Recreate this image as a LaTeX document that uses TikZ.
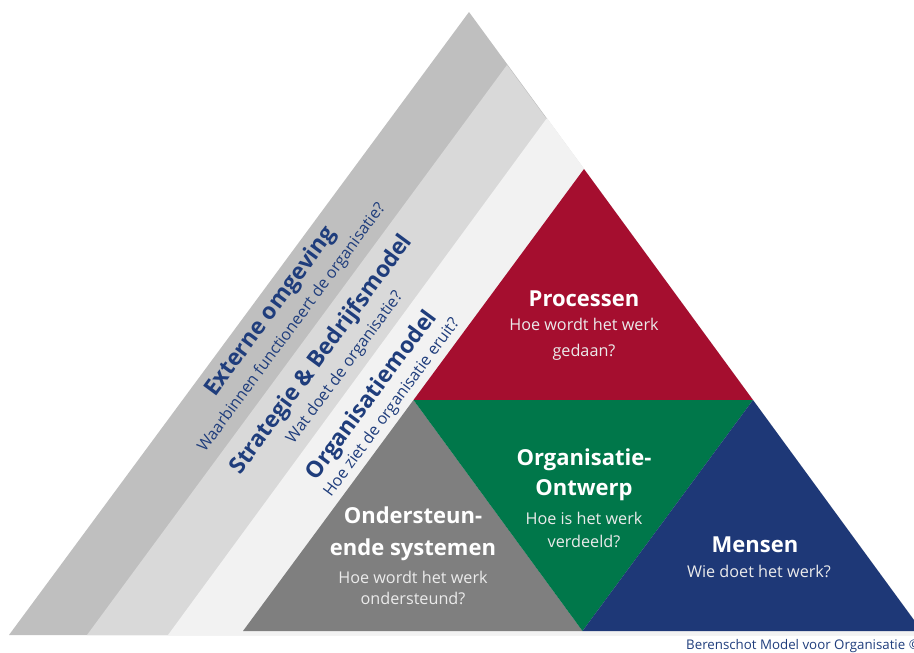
\documentclass[tikz,border=0pt]{standalone}
\usepackage{fontspec}
\setmainfont{Open Sans}
\usetikzlibrary{calc}
\definecolor{bandA}{HTML}{BFBFBF}
\definecolor{bandB}{HTML}{D9D9D9}
\definecolor{bandC}{HTML}{F2F2F2}
\definecolor{procred}{HTML}{A50E2F}
\definecolor{ontgreen}{HTML}{00774A}
\definecolor{menblue}{HTML}{1E3877}
\definecolor{sysgray}{HTML}{7F7F7F}
\definecolor{inkblue}{HTML}{1F3D7C}
\tikzset{
  bandtitle/.style={text=inkblue, font=\bfseries\fontsize{22.8}{26}\selectfont, rotate=53.6, inner sep=0pt},
  bandsub/.style={text=inkblue, font=\fontsize{16}{19}\selectfont, rotate=53.6, inner sep=0pt},
  parttitle/.style={text=white, font=\bfseries\fontsize{22}{31}\selectfont, align=center, inner sep=0pt},
  partsub/.style={text=white!92!black, font=\fontsize{16.2}{23.5}\selectfont, align=center, inner sep=0pt},
}
\begin{document}
\begin{tikzpicture}[x=1pt, y=-1pt]
  \useasboundingbox (0,0) rectangle (914,653);
  % outer pyramid and its three bands
  \coordinate (apex) at (469,12);
  \coordinate (baseL) at (9,635);
  \coordinate (baseR) at (925,635);
  \coordinate (bandBtop) at (507,65);
  \coordinate (bandBleft) at (87,635);
  \coordinate (bandCtop) at (547,118);
  \coordinate (bandCleft) at (168,635);
  \fill[bandA] (baseL) -- (apex) -- (baseR) -- cycle;
  \fill[bandB] (bandBleft) -- (bandBtop) -- (baseR) -- cycle;
  \fill[bandC] (bandCleft) -- (bandCtop) -- (baseR) -- cycle;
  % inner triangle split into four parts
  \coordinate (A) at (243,631);
  \coordinate (B) at (584,169);
  \coordinate (C) at (922,631);
  \coordinate (AB) at ($(A)!0.5!(B)$);
  \coordinate (BC) at ($(B)!0.5!(C)$);
  \coordinate (AC) at ($(A)!0.5!(C)$);
  \fill[procred] (B) -- (AB) -- (BC) -- cycle;
  \fill[sysgray] (A) -- (AB) -- (AC) -- cycle;
  \fill[ontgreen] (AB) -- (BC) -- (AC) -- cycle;
  \fill[menblue] (BC) -- (C) -- (AC) -- cycle;
  % band labels
  \node[bandtitle] (ext) at (271,312) {Externe omgeving};
  \node[bandsub] (extq) at (292,328) {Waarbinnen functioneert de organisatie?};
  \node[bandtitle] (strat) at (322,355) {Strategie \& Bedrijfsmodel};
  \node[bandsub] (stratq) at (345,368) {Wat doet de organisatie?};
  \node[bandtitle] (org) at (372,396) {Organisatiemodel};
  \node[bandsub] (orgq) at (392,408) {Hoe ziet de organisatie eruit?};
  % part labels
  \node[parttitle] (proc) at (584,299) {Processen};
  \node[partsub, font=\fontsize{16.2}{26}\selectfont] (procq) at (584,339) {Hoe wordt het werk\\gedaan?};
  \node[parttitle, font=\bfseries\fontsize{22}{30}\selectfont] (ont) at (584,475) {Organisatie-\\Ontwerp};
  \node[partsub] (ontq) at (584,530) {Hoe is het werk\\verdeeld?};
  \node[parttitle, font=\bfseries\fontsize{22}{32}\selectfont] (sys) at (413,534) {Ondersteun-\\ende systemen};
  \node[partsub, font=\fontsize{16.2}{21.5}\selectfont] (sysq) at (413,588) {Hoe wordt het werk\\ondersteund?};
  \node[parttitle] (men) at (755,545) {Mensen};
  \node[partsub] (menq) at (759,571) {Wie doet het werk?};
  % credit line
  \node[text=inkblue, font=\fontsize{13.3}{16}\selectfont, anchor=west, inner sep=0pt] (credit) at (686,646) {Berenschot Model voor Organisatie ©};
\end{tikzpicture}
\end{document}
